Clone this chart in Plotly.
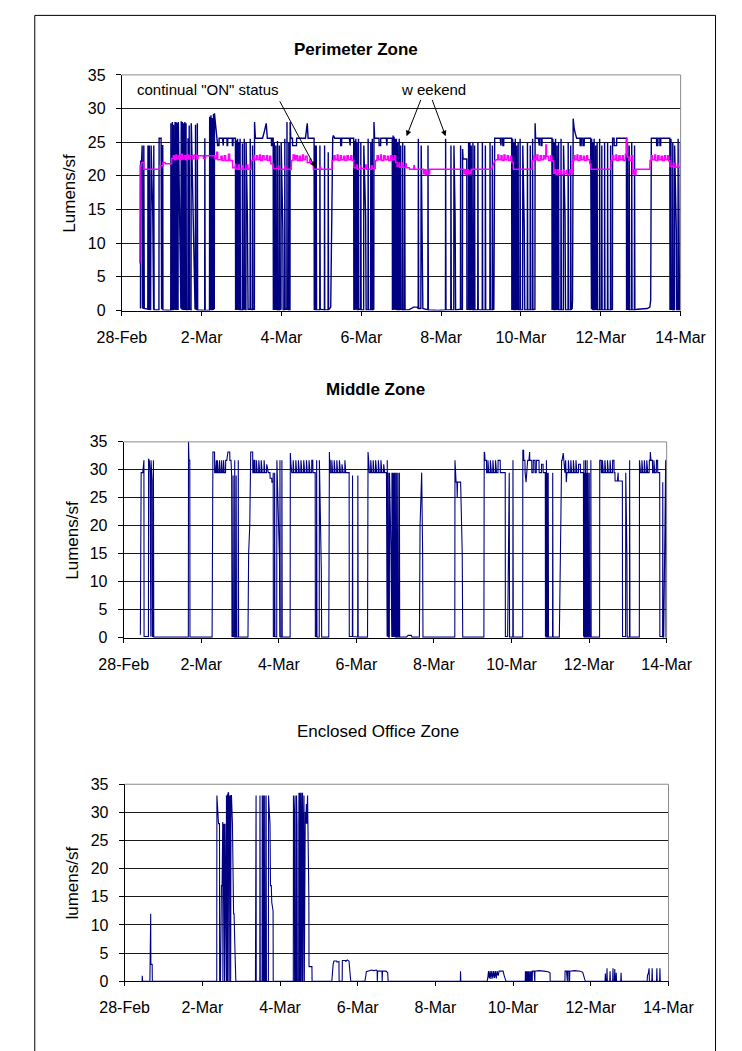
import plotly.graph_objects as go

# ---------------------------------------------------------------------------
# Axis labels
# ---------------------------------------------------------------------------
tick_hours = [0, 48, 96, 144, 192, 240, 288, 336]
tick_labels = ["28-Feb", "2-Mar", "4-Mar", "6-Mar", "8-Mar", "10-Mar", "12-Mar", "14-Mar"]
lumen_ticks = [0, 5, 10, 15, 20, 25, 30, 35]

# ---------------------------------------------------------------------------
# Logged lighting levels: (hours since 28-Feb 00:00, lumens per sq ft)
# ---------------------------------------------------------------------------
perimeter_zone = [
    (11.2, 0.3), (11.3, 22.3), (11.8, 21.8), (12.2, 24.5), (12.4, 0.4),
    (13.1, 0.3), (13.2, 24.5), (13.5, 0.3), (15.6, 0.2), (15.7, 24.5), (15.9, 0.2),
    (16.4, 0.2), (16.5, 24.5), (16.7, 0.2), (17.3, 0.1), (17.4, 24.5), (17.6, 24.5),
    (18.6, 14.0), (18.8, 0.2), (19.1, 0.1), (19.2, 24.5), (19.4, 0.1),
    (22.3, 0.1), (22.4, 25.6), (23.6, 25.6), (23.7, 0.2), (23.9, 0.2), (24.0, 24.5),
    (24.6, 24.5), (24.7, 0.1),
    (29.4, 0.0), (29.5, 27.8), (29.7, 0.2), (30.3, 0.1), (30.4, 28.0), (30.6, 0.1),
    (31.0, 0.1), (31.1, 27.6), (31.3, 0.3), (31.7, 0.2), (31.8, 28.0), (32.0, 28.0),
    (32.1, 0.2), (32.5, 0.1), (32.6, 28.0), (32.8, 0.1), (33.2, 0.2), (33.3, 27.8),
    (33.4, 0.2), (33.8, 0.2), (33.9, 28.0), (34.0, 27.5), (35.5, 0.3), (35.7, 28.1),
    (35.9, 0.3), (36.3, 0.2), (36.4, 28.0), (36.6, 0.2), (37.0, 0.1), (37.1, 27.8),
    (37.3, 0.1), (37.8, 0.2), (37.9, 28.0), (38.1, 0.2), (38.5, 0.2), (38.6, 27.8),
    (38.8, 0.1), (39.7, 0.1), (39.8, 25.6), (40.0, 0.2), (40.4, 0.2), (40.5, 27.5),
    (40.7, 0.2), (41.6, 0.1), (41.7, 27.8), (41.8, 27.5), (44.0, 0.3), (44.2, 0.2),
    (44.3, 27.6), (44.5, 0.2), (45.3, 0.1), (45.4, 27.8), (45.6, 0.1),
    (49.8, 0.0), (49.9, 25.6), (50.1, 0.0),
    (52.7, 0.0), (52.8, 28.8), (53.0, 0.2), (53.5, 0.2), (53.6, 29.0), (53.8, 0.1),
    (54.3, 0.1), (54.4, 28.6), (54.6, 0.2), (55.0, 0.2), (55.1, 29.2), (55.4, 0.3),
    (55.6, 0.3), (55.7, 29.3), (56.2, 28.0), (56.8, 26.5), (57.3, 25.0), (57.6, 24.5),
    (58.4, 24.5), (58.5, 25.6), (60.5, 25.6), (60.6, 24.5), (61.0, 24.5), (61.1, 25.6),
    (63.2, 25.6), (63.3, 24.5), (63.6, 24.5), (63.7, 25.6), (66.4, 25.6), (66.5, 24.5),
    (66.8, 24.5), (66.9, 25.6), (68.3, 25.6),
    (68.4, 0.2), (68.8, 0.2), (68.9, 25.3), (69.1, 0.2), (69.5, 0.1), (69.6, 25.5),
    (69.8, 0.1), (70.2, 0.2), (70.3, 25.0), (70.5, 0.2), (71.0, 0.1), (71.1, 25.5),
    (71.3, 0.1), (72.4, 0.1), (72.5, 24.8), (72.7, 0.1), (73.5, 0.2), (73.6, 25.5),
    (73.8, 0.2), (74.6, 0.1), (74.7, 25.0), (75.5, 14.0), (75.9, 0.2), (77.1, 0.2),
    (77.2, 25.5), (77.4, 0.2), (78.5, 0.1), (78.6, 24.5), (78.8, 0.2),
    (79.7, 0.2), (79.8, 28.0), (80.3, 25.6), (84.6, 25.6), (85.6, 26.5), (86.8, 27.8),
    (87.5, 25.6), (89.9, 25.6), (90.0, 24.5), (90.4, 24.5), (90.5, 25.6), (91.0, 25.6),
    (91.1, 0.2), (91.6, 0.2), (91.7, 25.0), (91.9, 0.2), (92.5, 0.2), (92.6, 24.5),
    (92.8, 0.2), (93.5, 0.1), (93.6, 25.2), (93.8, 0.1), (94.6, 0.1), (94.7, 24.5),
    (94.9, 0.1), (95.7, 0.2), (95.8, 25.0), (96.8, 12.0), (97.0, 0.1), (97.9, 0.1),
    (98.0, 25.5), (98.2, 0.2), (99.2, 0.2), (99.3, 28.0), (99.5, 0.2), (100.3, 0.1),
    (100.4, 25.0), (100.6, 0.1),
    (101.1, 0.1), (101.2, 28.0), (101.6, 25.6), (102.6, 25.6), (102.7, 24.5), (105.0, 24.5),
    (105.1, 25.6), (110.4, 25.6), (111.0, 26.5), (111.5, 27.8), (112.0, 25.6), (115.6, 25.6),
    (115.7, 0.2), (116.0, 0.2), (116.1, 24.5), (116.3, 0.2), (116.8, 0.1), (116.9, 24.5),
    (117.1, 0.1), (119.0, 0.1), (119.1, 24.5), (119.3, 0.2), (121.8, 0.1), (121.9, 24.5),
    (122.0, 0.1), (124.0, 0.1), (124.1, 23.5), (124.3, 0.1), (125.6, 0.5), (126.4, 25.0),
    (126.8, 25.6), (127.2, 26.0), (128.0, 25.6), (131.5, 25.6), (131.6, 24.5), (132.1, 24.5),
    (132.2, 25.6), (136.8, 25.6), (136.9, 24.5), (137.3, 24.5), (137.4, 25.6), (139.4, 25.6),
    (139.5, 0.2), (139.9, 0.2), (140.0, 25.2), (140.2, 0.2), (140.6, 0.1), (140.7, 25.5),
    (140.9, 0.1), (141.3, 0.1), (141.4, 25.0), (141.6, 0.1), (142.2, 0.1), (142.3, 25.5),
    (142.5, 0.2), (143.6, 0.2), (143.7, 25.0), (143.9, 0.1), (145.4, 0.1), (145.5, 24.5),
    (146.6, 14.0), (146.9, 0.1), (148.0, 0.1), (148.1, 25.5), (148.3, 0.1), (149.6, 0.1),
    (149.7, 25.0), (149.9, 0.1), (150.5, 0.1), (150.6, 25.5), (150.8, 0.1),
    (151.5, 0.2), (151.6, 28.0), (152.0, 25.6), (154.6, 25.6), (154.7, 24.5), (155.6, 24.5),
    (155.7, 25.6), (159.0, 25.6), (159.1, 24.5), (159.4, 24.5), (159.5, 25.6), (162.6, 25.6),
    (162.7, 0.2), (163.0, 0.2), (163.1, 26.0), (163.3, 0.2), (163.6, 0.1), (163.7, 25.8),
    (163.9, 0.1), (164.3, 0.1), (164.4, 25.5), (164.6, 0.1), (165.0, 0.2), (165.1, 25.5),
    (165.3, 0.2), (165.8, 0.1), (165.9, 25.0), (166.1, 0.1), (166.7, 0.1), (166.8, 25.5),
    (167.0, 0.1), (167.6, 0.2), (167.7, 24.5), (167.9, 0.2), (168.8, 0.1), (168.9, 25.0),
    (169.1, 0.1), (170.0, 0.1), (170.1, 24.5), (170.3, 0.1),
    (172.5, 0.1), (174.5, 0.3), (175.5, 0.5), (177.5, 0.5), (178.2, 0.3), (178.3, 25.5),
    (178.5, 0.3), (179.8, 0.3), (180.0, 24.5), (181.0, 0.3), (183.0, 0.2), (184.0, 0.1),
    (184.1, 24.5), (184.3, 0.1), (190.0, 0.0), (194.6, 0.1), (194.7, 25.5), (194.9, 0.1),
    (197.8, 0.1), (197.9, 24.5), (198.1, 0.1), (199.6, 0.1), (199.7, 24.5), (200.4, 14.0),
    (200.7, 0.1), (203.6, 0.2), (203.7, 24.5), (203.9, 0.2), (204.8, 0.2), (204.9, 24.0),
    (205.2, 22.5), (207.4, 22.5), (207.5, 0.2), (208.4, 0.2), (208.5, 25.0), (208.7, 0.2),
    (209.2, 0.1), (209.3, 25.0), (209.5, 0.1), (210.0, 0.2), (210.1, 24.5), (210.3, 0.2),
    (211.0, 0.1), (211.1, 25.0), (211.3, 0.1), (212.0, 0.1), (212.1, 24.5), (212.3, 0.1),
    (214.0, 0.1), (214.1, 25.0), (214.3, 0.1), (216.7, 0.1), (216.8, 25.0), (217.0, 0.1),
    (218.5, 0.1), (218.6, 24.5), (218.8, 0.1), (221.3, 0.1), (221.4, 25.0), (221.6, 0.1),
    (222.7, 0.1), (222.8, 24.5), (223.0, 0.1),
    (223.7, 0.2), (223.8, 24.5), (224.2, 25.6), (227.5, 25.6), (227.6, 24.5), (228.0, 24.5),
    (228.1, 25.6), (229.0, 25.6), (229.1, 24.5), (229.6, 24.5), (229.7, 25.6), (234.4, 25.6),
    (234.5, 0.2), (234.9, 0.2), (235.0, 25.5), (235.2, 0.2), (235.7, 0.1), (235.8, 25.0),
    (236.0, 0.1), (236.5, 0.1), (236.6, 25.5), (236.8, 0.1), (237.3, 0.2), (237.4, 24.5),
    (237.6, 0.2), (238.2, 0.1), (238.3, 25.0), (238.5, 0.1), (239.4, 0.1), (239.5, 25.5),
    (239.7, 0.1), (241.0, 0.1), (241.1, 24.5), (242.0, 12.0), (242.3, 0.1), (243.8, 0.1),
    (243.9, 25.0), (244.1, 0.1), (245.5, 0.1), (245.6, 24.5), (245.8, 0.1), (246.9, 0.1),
    (247.0, 25.5), (247.2, 0.1),
    (248.4, 0.2), (248.5, 27.8), (248.8, 25.6), (250.5, 25.6), (250.6, 24.5), (251.0, 24.5),
    (251.1, 25.6), (252.0, 25.6), (252.1, 24.5), (252.6, 24.5), (252.7, 25.6), (258.6, 25.6),
    (258.7, 0.2), (259.1, 0.2), (259.2, 25.5), (259.4, 0.2), (259.9, 0.1), (260.0, 25.0),
    (260.2, 0.1), (260.7, 0.1), (260.8, 25.5), (261.0, 0.1), (261.6, 0.2), (261.7, 24.5),
    (261.9, 0.2), (262.5, 0.1), (262.6, 25.0), (262.8, 0.1), (264.0, 0.1), (264.1, 25.5),
    (264.3, 0.1), (265.5, 0.1), (265.6, 24.5), (266.5, 14.0), (266.8, 0.1), (268.3, 0.1),
    (268.4, 25.0), (268.6, 0.1), (269.8, 0.1), (269.9, 24.5), (270.1, 0.1), (270.8, 0.3),
    (271.0, 1.5),
    (271.4, 28.5), (272.0, 27.0), (272.8, 26.2), (273.5, 25.6), (275.5, 25.6), (275.6, 24.5),
    (276.2, 24.5), (276.3, 25.6), (277.2, 25.6), (277.3, 24.5), (278.0, 24.5), (278.1, 25.6),
    (281.9, 25.6),
    (282.0, 0.2), (282.4, 0.2), (282.5, 25.5), (282.7, 0.2), (283.1, 0.1), (283.2, 25.0),
    (283.4, 0.1), (283.9, 0.1), (284.0, 25.5), (284.2, 0.1), (284.8, 0.2), (284.9, 24.5),
    (285.1, 0.2), (285.7, 0.1), (285.8, 25.0), (286.0, 0.1), (287.2, 0.1), (287.3, 25.5),
    (287.5, 0.1), (288.5, 0.1), (288.6, 24.5), (288.8, 0.1), (290.2, 0.1), (290.3, 25.0),
    (290.5, 0.1), (292.0, 0.1), (292.1, 25.0), (292.3, 0.1), (293.8, 0.1), (293.9, 24.5),
    (294.1, 0.1), (295.0, 0.2),
    (295.1, 25.6), (296.0, 25.6), (296.1, 24.5), (297.5, 24.5), (297.6, 25.6), (303.4, 25.6),
    (303.5, 0.2), (304.0, 0.2), (304.1, 25.0), (304.3, 0.2), (305.0, 0.1), (305.1, 24.5),
    (305.3, 0.1), (306.5, 0.1), (306.6, 25.0), (306.8, 0.1), (308.2, 0.1), (308.3, 24.5),
    (308.5, 0.1), (310.0, 0.2), (316.0, 0.3), (317.5, 0.5), (318.0, 1.5),
    (318.4, 25.6), (321.5, 25.6), (321.6, 24.5), (322.3, 24.5), (322.4, 25.6), (323.5, 25.6),
    (323.6, 24.5), (324.0, 24.5), (324.1, 25.6), (329.5, 25.6),
    (329.6, 0.2), (330.1, 0.2), (330.2, 25.5), (330.4, 0.2), (331.2, 0.1), (331.3, 25.0),
    (331.5, 0.1), (332.3, 0.1), (332.4, 24.5), (333.4, 12.0), (333.6, 0.1), (334.4, 0.1),
    (334.5, 25.5), (334.7, 0.1), (335.4, 0.1), (335.9, 25.0),
]

perimeter_status = [
    (10.8, 7.0), (11.0, 21.5), (11.7, 21.5), (11.8, 22.0), (13.2, 22.0), (13.3, 21.0),
    (22.7, 21.0), (22.8, 21.5), (24.6, 21.5), (24.7, 22.0), (26.0, 22.0), (26.1, 21.8),
    (29.9, 21.8),
    (30.0, 22.6), (30.9, 22.6), (31.0, 23.0), (31.5, 23.0), (31.6, 22.4), (32.4, 22.4),
    (32.5, 23.1), (33.0, 23.1), (33.1, 22.5), (34.0, 22.5), (34.1, 23.0), (34.9, 23.0),
    (35.0, 22.4), (35.6, 22.4), (35.7, 23.2), (36.3, 23.2), (36.4, 22.5), (37.3, 22.5),
    (37.4, 23.0), (38.2, 23.0), (38.3, 22.4), (39.1, 22.4), (39.2, 23.1), (40.1, 23.1),
    (40.2, 22.5), (41.0, 22.5), (41.1, 23.0), (42.6, 23.0), (42.7, 22.5), (43.3, 22.5),
    (43.4, 23.1), (45.0, 23.1), (45.1, 22.6), (45.8, 22.6), (45.9, 23.0), (49.0, 23.0),
    (49.1, 22.6), (50.3, 22.6), (50.4, 23.0), (55.9, 23.0), (56.0, 22.5), (56.9, 22.5),
    (57.0, 23.5), (57.6, 23.5), (57.7, 22.4), (59.5, 22.4), (59.6, 22.9), (60.3, 22.9),
    (60.4, 22.3), (61.5, 22.3), (61.6, 23.0), (62.4, 23.0), (62.5, 22.3), (64.0, 22.3),
    (64.1, 23.2), (64.8, 23.2), (64.9, 22.3), (66.5, 22.3),
    (66.7, 21.2), (68.0, 21.2), (68.1, 21.8), (68.5, 21.8), (68.6, 21.0), (70.0, 21.0),
    (70.1, 21.6), (70.6, 21.6), (70.7, 21.0), (72.5, 21.0), (72.6, 21.5), (73.0, 21.5),
    (73.1, 21.0), (75.2, 21.0), (75.3, 21.6), (75.8, 21.6), (75.9, 21.0), (77.8, 21.0),
    (77.9, 22.3), (79.0, 22.3), (79.1, 23.0), (79.8, 23.0), (79.9, 22.4), (81.0, 22.4),
    (81.1, 23.0), (81.7, 23.0), (81.8, 22.4), (82.8, 22.4), (82.9, 23.1), (83.4, 23.1),
    (83.5, 22.3), (84.5, 22.3), (84.6, 23.0), (85.5, 23.0), (85.6, 22.4), (86.8, 22.4),
    (86.9, 23.0), (87.6, 23.0), (87.7, 22.3), (88.8, 22.3), (88.9, 22.9), (89.5, 22.9),
    (89.6, 21.8), (90.9, 21.8),
    (91.0, 21.1), (94.0, 21.1), (94.1, 21.5), (94.4, 21.5), (94.5, 21.0), (98.0, 21.0),
    (98.1, 21.5), (98.5, 21.5), (98.6, 21.0), (101.9, 21.0),
    (102.0, 22.3), (102.9, 22.3), (103.0, 23.1), (103.8, 23.1), (103.9, 22.4), (104.6, 22.4),
    (104.7, 23.0), (105.5, 23.0), (105.6, 22.3), (106.6, 22.3), (106.7, 22.9), (107.4, 22.9),
    (107.5, 22.3), (108.5, 22.3), (108.6, 23.1), (109.2, 23.1), (109.3, 22.4), (110.3, 22.4),
    (110.4, 22.9), (111.4, 22.9), (111.5, 22.0), (113.0, 22.0), (113.1, 22.5), (113.6, 22.5),
    (113.7, 21.8), (115.1, 21.8),
    (115.2, 21.0), (119.0, 21.0), (119.1, 21.3), (119.6, 21.3), (119.7, 21.0), (126.3, 21.0),
    (126.4, 22.3), (127.4, 22.3), (127.5, 23.0), (128.2, 23.0), (128.3, 22.4), (129.4, 22.4),
    (129.5, 23.1), (130.0, 23.1), (130.1, 22.3), (131.2, 22.3), (131.3, 23.0), (132.0, 23.0),
    (132.1, 22.4), (133.3, 22.4), (133.4, 22.9), (134.1, 22.9), (134.2, 22.3), (135.3, 22.3),
    (135.4, 23.0), (136.2, 23.0), (136.3, 22.4), (137.6, 22.4), (137.7, 23.0), (138.3, 23.0),
    (138.4, 22.3), (139.4, 22.3),
    (139.5, 21.2), (141.0, 21.2), (141.1, 21.6), (141.5, 21.6), (141.6, 21.0), (143.5, 21.0),
    (143.6, 21.5), (144.0, 21.5), (144.1, 21.1), (146.6, 21.1), (146.7, 21.6), (147.1, 21.6),
    (147.2, 21.0), (150.0, 21.0), (150.1, 21.5), (150.5, 21.5), (150.6, 21.1), (152.4, 21.1),
    (152.5, 22.3), (153.4, 22.3), (153.5, 23.0), (154.2, 23.0), (154.3, 22.4), (155.5, 22.4),
    (155.6, 23.1), (156.1, 23.1), (156.2, 22.3), (157.4, 22.3), (157.5, 23.0), (158.3, 23.0),
    (158.4, 22.4), (159.6, 22.4), (159.7, 22.9), (160.4, 22.9), (160.5, 22.3), (161.6, 22.3),
    (161.7, 23.0), (162.5, 23.0), (162.6, 22.4), (163.8, 22.4), (163.9, 23.0), (164.6, 23.0),
    (164.7, 22.0), (165.5, 22.0),
    (165.6, 21.4), (166.6, 21.4), (166.7, 21.9), (167.1, 21.9), (167.2, 21.3), (168.6, 21.3),
    (168.7, 21.9), (169.0, 21.9), (169.1, 21.3), (170.6, 21.3), (170.7, 21.8), (171.0, 21.8),
    (171.1, 21.2), (172.9, 21.2), (173.0, 21.0), (175.5, 21.0), (175.6, 21.5), (175.9, 21.5),
    (176.0, 21.0), (181.3, 21.0),
    (181.4, 20.3), (182.0, 20.3), (182.1, 20.9), (182.5, 20.9), (182.6, 20.2), (183.4, 20.2),
    (183.5, 20.9), (183.9, 20.9), (184.0, 20.3), (185.1, 20.3),
    (185.2, 21.0), (205.6, 21.0),
    (205.7, 20.3), (206.3, 20.3), (206.4, 20.9), (206.8, 20.9), (206.9, 20.2), (207.7, 20.2),
    (207.8, 20.9), (208.3, 20.9), (208.4, 20.3), (209.3, 20.3), (209.4, 20.8), (209.8, 20.8),
    (209.9, 20.3), (210.2, 20.3),
    (210.3, 21.0), (222.4, 21.0), (223.5, 21.8), (224.5, 22.3),
    (225.3, 22.4), (226.0, 22.4), (226.1, 23.1), (226.7, 23.1), (226.8, 22.4), (227.9, 22.4),
    (228.0, 23.0), (228.6, 23.0), (228.7, 22.3), (229.7, 22.3), (229.8, 23.1), (230.4, 23.1),
    (230.5, 22.4), (231.6, 22.4), (231.7, 23.0), (232.5, 23.0), (232.6, 22.3), (233.7, 22.3),
    (233.8, 22.9), (234.4, 22.9), (234.5, 22.0), (235.4, 22.0),
    (235.5, 21.0), (246.6, 21.0),
    (246.7, 22.3), (247.6, 22.3), (247.7, 23.0), (248.3, 23.0), (248.4, 22.4), (249.5, 22.4),
    (249.6, 23.1), (250.2, 23.1), (250.3, 22.3), (251.4, 22.3), (251.5, 23.0), (252.2, 23.0),
    (252.3, 22.4), (253.4, 22.4), (253.5, 23.0), (254.3, 23.0), (254.4, 22.5), (254.9, 22.5),
    (255.0, 24.6), (255.3, 24.6), (255.4, 22.9), (256.5, 22.9), (256.6, 22.3), (257.7, 22.3),
    (257.8, 23.0), (258.5, 23.0), (258.6, 22.2), (259.7, 22.2),
    (259.8, 20.4), (260.5, 20.4), (260.6, 20.9), (261.0, 20.9), (261.1, 20.2), (262.0, 20.2),
    (262.1, 20.9), (262.6, 20.9), (262.7, 20.3), (263.8, 20.3), (263.9, 20.8), (264.3, 20.8),
    (264.4, 20.2), (265.5, 20.2), (265.6, 20.9), (266.0, 20.9), (266.1, 20.3), (267.3, 20.3),
    (267.4, 20.8), (267.9, 20.8), (268.0, 20.2), (269.3, 20.2), (269.4, 20.9), (269.8, 20.9),
    (269.9, 20.4), (270.8, 20.4),
    (270.9, 22.3), (271.8, 22.3), (271.9, 23.0), (272.5, 23.0), (272.6, 22.4), (273.6, 22.4),
    (273.7, 23.1), (274.2, 23.1), (274.3, 22.3), (275.4, 22.3), (275.5, 23.0), (276.2, 23.0),
    (276.3, 22.4), (277.4, 22.4), (277.5, 22.9), (278.2, 22.9), (278.3, 22.3), (279.4, 22.3),
    (279.5, 23.0), (280.1, 23.0), (280.2, 22.4), (281.3, 22.4), (281.4, 21.8), (282.0, 21.8),
    (282.1, 21.0), (294.1, 21.0),
    (294.2, 22.3), (295.1, 22.3), (295.2, 23.0), (295.8, 23.0), (295.9, 22.4), (297.0, 22.4),
    (297.1, 23.1), (297.6, 23.1), (297.7, 22.3), (298.8, 22.3), (298.9, 23.0), (299.6, 23.0),
    (299.7, 22.4), (300.8, 22.4), (300.9, 23.0), (301.5, 23.0), (301.6, 22.3), (302.7, 22.3),
    (302.8, 23.2), (303.4, 23.2), (303.5, 25.6), (303.8, 25.6), (303.9, 22.8), (305.0, 22.8),
    (305.1, 22.3), (306.2, 22.3), (306.3, 23.0), (307.2, 23.0),
    (307.3, 20.3), (307.8, 20.3), (307.9, 20.9), (308.4, 20.9), (308.5, 20.2), (309.1, 20.2),
    (309.2, 21.0), (317.5, 21.0),
    (317.6, 22.3), (318.5, 22.3), (318.6, 23.0), (319.2, 23.0), (319.3, 22.4), (320.4, 22.4),
    (320.5, 23.1), (321.0, 23.1), (321.1, 22.3), (322.2, 22.3), (322.3, 23.0), (323.0, 23.0),
    (323.1, 22.4), (324.2, 22.4), (324.3, 22.9), (325.0, 22.9), (325.1, 22.3), (326.2, 22.3),
    (326.3, 23.0), (326.9, 23.0), (327.0, 22.4), (328.1, 22.4), (328.2, 23.0), (328.8, 23.0),
    (328.9, 22.2), (329.6, 22.2),
    (329.7, 21.4), (331.5, 21.4), (331.6, 21.9), (332.0, 21.9), (332.1, 21.3), (334.0, 21.3),
    (334.1, 21.8), (334.4, 21.8), (334.5, 21.3), (336.0, 21.3),
]

middle_zone = [
    (10.3, 0.5), (10.4, 24.0), (10.8, 29.5), (11.8, 29.5), (12.2, 31.7), (12.5, 31.7),
    (12.6, 0.2), (15.3, 0.2), (15.4, 32.0), (15.9, 31.5), (16.3, 29.5), (16.4, 0.2),
    (16.8, 0.2), (16.9, 31.7), (17.3, 29.0), (17.6, 28.0), (17.7, 0.2), (18.3, 0.2),
    (18.4, 31.7), (18.6, 0.1),
    (40.0, 0.1), (40.1, 35.0), (40.4, 31.7), (40.9, 31.7), (41.0, 0.1),
    (54.7, 0.1), (55.0, 20.0), (55.2, 33.2), (56.2, 33.2), (56.3, 29.5), (56.8, 29.5),
    (56.9, 31.7), (57.3, 31.7), (57.4, 29.5), (57.9, 29.5), (58.0, 31.7), (58.5, 29.5),
    (59.2, 29.5), (59.3, 31.7), (59.8, 29.5), (60.5, 29.5), (60.6, 31.7), (61.0, 29.5),
    (61.7, 29.5), (61.8, 31.7), (62.2, 29.5), (63.0, 29.5), (63.1, 31.7), (63.8, 31.7),
    (64.5, 33.2), (65.6, 33.2), (65.7, 31.7), (66.4, 31.7),
    (66.8, 29.0), (67.0, 0.2), (67.6, 0.2), (67.7, 29.0), (67.9, 0.2), (68.6, 0.1),
    (68.7, 31.7), (68.9, 0.1), (69.5, 0.1), (69.6, 29.0), (69.8, 0.1), (70.8, 0.1),
    (70.9, 31.7), (71.1, 0.1), (76.9, 0.1), (77.3, 15.0), (78.0, 20.0), (78.6, 33.2),
    (79.8, 33.2), (79.9, 29.5), (80.5, 29.5), (80.6, 31.7), (81.1, 31.7), (81.2, 29.5),
    (82.0, 29.5), (82.1, 31.7), (82.6, 29.5), (83.5, 29.5), (83.6, 31.7), (84.2, 29.5),
    (85.0, 29.5), (85.1, 31.7), (85.7, 29.5), (86.8, 29.5), (86.9, 31.7), (87.3, 29.5),
    (88.4, 29.5), (88.5, 31.0), (89.5, 29.5), (90.5, 29.5), (90.6, 28.5), (91.6, 28.5),
    (91.7, 27.8), (92.4, 27.8),
    (92.5, 29.5), (92.6, 0.2), (93.3, 0.2), (93.4, 29.5), (93.6, 0.2), (94.7, 0.1),
    (94.8, 31.7), (96.4, 14.0), (96.6, 0.1), (96.7, 31.7), (96.9, 0.1), (97.8, 0.1),
    (97.9, 31.7), (98.1, 0.1),
    (103.0, 0.1), (103.1, 33.0), (103.5, 31.0), (104.0, 29.5), (104.8, 29.5), (104.9, 31.7),
    (105.3, 29.5), (106.4, 29.5), (106.5, 31.7), (107.0, 29.5), (108.0, 29.5), (108.1, 31.7),
    (108.7, 29.5), (109.6, 29.5), (109.7, 31.7), (110.3, 29.5), (111.3, 29.5), (111.4, 31.7),
    (112.0, 29.5), (113.0, 29.5), (113.1, 31.7), (113.6, 29.5), (114.6, 29.5), (114.7, 31.7),
    (115.3, 29.5), (116.3, 29.5), (116.4, 31.7), (117.0, 31.7), (117.1, 29.5), (118.5, 29.5),
    (118.6, 0.2), (119.3, 0.2), (119.4, 31.7), (119.6, 0.1), (121.0, 0.1), (121.1, 31.7),
    (122.3, 12.0), (122.5, 0.1),
    (126.9, 0.1), (127.0, 33.2), (127.3, 33.2), (127.4, 31.7), (127.8, 31.7), (127.9, 29.5),
    (128.7, 29.5), (128.8, 31.7), (129.3, 29.5), (130.2, 29.5), (130.3, 31.7), (130.8, 29.5),
    (131.8, 29.5), (131.9, 31.7), (132.4, 29.5), (133.4, 29.5), (133.5, 31.7), (134.1, 29.5),
    (135.0, 29.5), (135.1, 31.0), (135.8, 29.5), (136.8, 29.5), (136.9, 31.7), (137.4, 29.5),
    (139.5, 29.5),
    (139.6, 0.2), (141.5, 0.2), (141.6, 29.0), (141.8, 0.2), (144.8, 0.1), (144.9, 29.0),
    (145.1, 0.1),
    (150.9, 0.1), (151.0, 20.0), (151.2, 33.2), (151.6, 31.7), (152.0, 29.5), (152.8, 29.5),
    (152.9, 31.7), (153.4, 29.5), (154.3, 29.5), (154.4, 31.7), (154.9, 29.5), (155.8, 29.5),
    (155.9, 31.7), (156.5, 29.5), (157.5, 29.5), (157.6, 31.7), (158.1, 29.5), (159.1, 29.5),
    (159.2, 31.7), (159.8, 29.5), (160.8, 29.5), (160.9, 31.0), (161.5, 29.5), (162.6, 29.5),
    (162.7, 0.2), (163.0, 0.2), (163.1, 31.7), (163.3, 0.1), (163.6, 0.1), (163.7, 29.5),
    (163.9, 0.1), (164.4, 0.1), (164.5, 29.5), (165.4, 15.0), (165.6, 0.1), (165.9, 0.1),
    (166.0, 29.5), (166.2, 0.1), (166.6, 0.1), (166.7, 29.5), (166.9, 0.1), (167.3, 0.1),
    (167.4, 29.5), (167.6, 0.1), (168.0, 0.1), (168.1, 29.5), (168.3, 0.1), (168.8, 0.1),
    (168.9, 29.5), (169.1, 0.1), (169.6, 0.1), (169.7, 29.5), (169.9, 0.1), (170.5, 0.1),
    (170.6, 29.5), (170.8, 0.1),
    (171.4, 0.1), (175.0, 0.1), (176.0, 0.4), (178.0, 0.4), (178.5, 0.1), (183.0, 0.1),
    (183.4, 20.0), (184.4, 29.5), (185.0, 15.0), (185.2, 0.1),
    (204.9, 0.1), (205.0, 31.7), (205.4, 29.5), (205.7, 27.8), (206.2, 27.8), (206.4, 25.0),
    (206.6, 27.8), (208.5, 27.8), (209.5, 15.0), (209.8, 0.1),
    (222.9, 0.1), (223.1, 33.2), (223.4, 33.0), (223.6, 31.7), (224.5, 31.7), (224.6, 29.5),
    (225.3, 29.5), (225.4, 31.7), (225.9, 29.5), (226.8, 29.5), (226.9, 31.7), (227.5, 29.5),
    (228.4, 29.5), (228.5, 31.7), (229.0, 29.5), (230.0, 29.5), (230.1, 31.7), (230.7, 29.5),
    (231.6, 29.5), (231.7, 31.7), (233.0, 31.7), (233.1, 29.5), (236.1, 29.5),
    (236.2, 0.2), (237.6, 0.2), (238.6, 29.5), (238.8, 0.1), (240.8, 0.1), (240.9, 31.7),
    (241.1, 0.1),
    (246.9, 0.1), (247.0, 33.5), (247.5, 33.5), (247.6, 31.7), (248.3, 31.7), (248.4, 29.5),
    (249.0, 27.8), (249.4, 29.5), (250.0, 31.7), (250.8, 31.7), (250.9, 33.2), (251.2, 33.2),
    (251.3, 31.7), (252.5, 31.7), (252.6, 29.5), (253.4, 29.5), (253.5, 31.7), (254.5, 31.7),
    (254.6, 29.5), (255.3, 29.5), (255.4, 31.7), (257.0, 31.7), (257.1, 29.5), (258.5, 29.5),
    (258.6, 31.0), (259.5, 31.0), (259.6, 29.5), (260.9, 29.5),
    (261.0, 0.2), (261.1, 29.5), (261.3, 0.1), (261.5, 0.1), (261.6, 31.7), (261.8, 0.1),
    (262.0, 0.1), (262.1, 29.5), (262.3, 0.1), (262.6, 0.1), (262.7, 29.5), (262.9, 0.1),
    (265.4, 0.1), (265.5, 29.5), (265.7, 0.1), (269.6, 0.1), (270.3, 20.0), (271.0, 31.7),
    (271.3, 31.7),
    (272.0, 33.0), (272.4, 31.7), (273.0, 29.5), (273.5, 31.7), (273.9, 27.8), (274.3, 29.5),
    (275.1, 29.5), (275.2, 31.7), (275.7, 29.5), (276.6, 29.5), (276.7, 31.7), (277.2, 29.5),
    (278.2, 29.5), (278.3, 31.7), (278.8, 29.5), (279.8, 29.5), (279.9, 31.7), (280.4, 29.5),
    (281.4, 29.5), (281.5, 31.0), (282.6, 31.0), (282.7, 29.5), (284.5, 29.5),
    (284.6, 0.2), (284.8, 31.7), (285.0, 0.1), (285.2, 0.1), (285.3, 29.5), (285.5, 0.1),
    (285.7, 0.1), (285.8, 31.7), (286.0, 0.1), (286.2, 0.1), (286.3, 29.5), (286.5, 0.1),
    (286.7, 0.1), (286.8, 31.7), (287.0, 0.1), (287.2, 0.1), (287.3, 29.5), (287.5, 0.1),
    (288.0, 0.1), (288.1, 29.5), (288.3, 0.1), (289.0, 0.1), (289.1, 31.7), (289.3, 0.1),
    (294.5, 0.1), (294.6, 31.7), (295.5, 31.7), (295.6, 29.5), (296.2, 29.5), (296.3, 31.7),
    (296.8, 29.5), (297.7, 29.5), (297.8, 31.7), (298.3, 29.5), (299.3, 29.5), (299.4, 31.7),
    (299.9, 29.5), (300.9, 29.5), (301.0, 31.7), (301.5, 29.5), (302.5, 29.5), (302.6, 31.7),
    (303.4, 31.7), (303.5, 29.5), (304.0, 29.5), (304.1, 28.0), (305.5, 28.0), (305.6, 29.5),
    (306.0, 29.5), (306.1, 28.0), (308.6, 28.0),
    (308.7, 0.2), (310.6, 0.2), (310.7, 29.5), (311.4, 15.0), (311.6, 0.1), (313.0, 0.1),
    (313.1, 31.7), (313.3, 0.1),
    (319.1, 0.1), (319.2, 31.7), (319.8, 29.5), (320.6, 29.5), (320.7, 31.7), (321.2, 29.5),
    (322.1, 29.5), (322.2, 31.7), (322.7, 29.5), (323.6, 29.5), (323.7, 31.7), (324.3, 29.5),
    (325.2, 29.5), (325.3, 31.7), (325.8, 31.7), (325.9, 33.2), (326.3, 31.7), (327.2, 31.7),
    (327.3, 29.5), (328.0, 29.5), (328.1, 31.7), (328.7, 29.5), (329.6, 29.5), (329.7, 31.7),
    (330.4, 31.7), (330.5, 29.5), (331.7, 29.5),
    (331.8, 0.2), (333.5, 0.2), (333.6, 27.8), (333.8, 0.1), (334.2, 0.1), (334.9, 20.0),
    (335.4, 31.7), (335.6, 0.1), (335.8, 0.1), (335.9, 32.0),
]

enclosed_office_zone = [
    (10.5, 0.0), (10.8, 0.0), (10.9, 1.0), (11.1, 0.0), (15.6, 0.0), (15.7, 12.0),
    (16.1, 12.0), (16.2, 3.0), (17.0, 3.0), (17.1, 0.0),
    (56.9, 0.0), (57.0, 33.0), (57.5, 30.0), (58.0, 28.0), (58.6, 28.0), (58.7, 0.0),
    (59.2, 0.0), (59.5, 14.0), (59.8, 17.0), (60.2, 17.0), (60.3, 28.3), (60.6, 28.3),
    (60.7, 0.0), (60.9, 17.0), (61.1, 28.0), (61.3, 17.0), (61.5, 28.0), (61.7, 0.0),
    (62.0, 28.0), (62.2, 17.0), (62.4, 0.0), (62.8, 0.0), (62.9, 33.0), (63.1, 0.0),
    (63.3, 28.0), (63.5, 33.2), (63.7, 0.0), (63.9, 33.5), (64.2, 33.5), (64.4, 28.0),
    (64.6, 0.0), (64.8, 33.0), (65.1, 28.0), (65.3, 33.0), (65.5, 0.0), (65.7, 33.0),
    (66.0, 33.0), (66.2, 28.0), (66.4, 30.0), (66.6, 28.0), (67.3, 12.0), (67.6, 12.0),
    (68.2, 5.0), (68.7, 0.0),
    (80.8, 0.0), (80.9, 33.0), (81.2, 33.0), (81.3, 0.0), (83.5, 0.0), (83.6, 33.0),
    (83.8, 0.0), (84.9, 0.0), (85.0, 33.0), (85.2, 0.0), (85.6, 0.0), (85.7, 33.0),
    (85.9, 0.0), (86.4, 0.0), (86.5, 33.0), (86.7, 0.0), (87.3, 0.0), (87.4, 33.0),
    (87.6, 0.0), (88.8, 0.0), (88.9, 33.0), (89.4, 30.0), (89.8, 28.0), (90.1, 17.0),
    (90.6, 17.0), (90.9, 14.0), (91.7, 12.5), (91.8, 0.0),
    (104.2, 0.0), (104.3, 33.0), (104.8, 29.0), (105.0, 0.0), (105.2, 0.0), (105.3, 33.0),
    (105.5, 0.0), (106.1, 0.0), (106.2, 33.0), (106.5, 28.0), (106.7, 0.0), (107.5, 0.0),
    (107.6, 28.0), (107.7, 33.5), (107.9, 0.0), (108.0, 33.5), (108.2, 0.0), (108.6, 0.0),
    (108.7, 33.5), (108.9, 0.0), (109.3, 28.0), (109.5, 33.5), (109.7, 0.0), (109.9, 33.5),
    (110.1, 0.0), (110.5, 28.0), (110.8, 33.0), (111.0, 0.0), (111.3, 28.0), (111.6, 30.0),
    (111.9, 28.0), (112.3, 31.5), (112.6, 28.0), (112.8, 33.0), (113.0, 33.0), (113.8, 15.0),
    (113.9, 2.6), (115.7, 2.6), (115.8, 0.0),
    (128.0, 0.0), (128.3, 1.6), (128.8, 3.0), (129.3, 3.6), (131.0, 3.6), (131.2, 3.4),
    (132.4, 3.5), (132.5, 0.0), (134.4, 0.0), (134.5, 3.7), (136.5, 3.7), (136.6, 3.5),
    (137.5, 3.8), (138.6, 3.6), (139.7, 0.0),
    (148.4, 0.0), (148.6, 1.0), (149.0, 1.0), (149.3, 1.7), (151.0, 1.8), (152.5, 2.0),
    (154.0, 1.9), (155.5, 2.0), (156.0, 1.8), (156.1, 0.0), (156.3, 1.8), (159.0, 1.8),
    (159.1, 0.0), (159.3, 1.8), (161.5, 1.8), (162.5, 1.5), (162.8, 0.0),
    (207.4, 0.0), (207.5, 1.8), (207.7, 0.0),
    (223.9, 0.0), (224.3, 0.5), (224.8, 1.8), (225.3, 0.5), (225.8, 1.8), (226.3, 0.4),
    (226.8, 1.8), (227.4, 0.5), (227.9, 1.8), (228.5, 0.6), (229.0, 1.8), (229.6, 0.5),
    (230.1, 1.8), (230.8, 1.0), (231.3, 1.8), (233.8, 1.8), (234.5, 1.0), (235.6, 0.0),
    (247.5, 0.0), (247.6, 1.8), (247.8, 0.0), (248.2, 0.0), (248.3, 1.8), (248.5, 0.0),
    (248.9, 0.0), (249.0, 1.8), (249.2, 0.0), (249.6, 0.0), (249.7, 1.8), (249.9, 0.0),
    (250.4, 0.0), (250.5, 1.8), (250.7, 0.0), (251.1, 0.0), (251.2, 1.8), (251.4, 0.0),
    (251.8, 0.0), (251.9, 1.8), (253.0, 1.8), (253.1, 0.0), (253.4, 0.0), (253.5, 1.8),
    (256.0, 1.9), (259.0, 1.8), (261.5, 1.7), (262.8, 1.5), (262.9, 0.0),
    (272.0, 0.0), (272.1, 1.8), (273.0, 1.8), (273.1, 0.0), (273.5, 0.0), (273.6, 1.8),
    (274.4, 1.8), (274.5, 0.0), (274.9, 0.0), (275.0, 1.8), (278.0, 1.9), (281.5, 1.8),
    (283.0, 1.6), (284.6, 0.0),
    (296.8, 0.0), (297.0, 1.4), (297.2, 0.0), (297.8, 0.0), (298.0, 2.3), (298.2, 0.0),
    (299.7, 0.0), (299.9, 1.8), (300.1, 0.0), (301.5, 0.0), (301.7, 2.3), (301.9, 0.0),
    (302.6, 0.0), (302.8, 2.2), (303.0, 0.0), (303.5, 0.0), (303.7, 1.5), (303.9, 0.0),
    (306.5, 0.0), (306.7, 1.5), (306.9, 0.0),
    (322.8, 0.0), (323.0, 1.0), (323.6, 1.5), (324.0, 2.3), (324.2, 0.0), (325.7, 0.0),
    (325.9, 2.3), (326.1, 0.0), (328.6, 0.0), (328.8, 2.3), (329.0, 0.0), (330.5, 0.0),
    (330.7, 2.3), (330.9, 0.0), (331.6, 0.0),
]

# ---------------------------------------------------------------------------
# Styling
# ---------------------------------------------------------------------------
W, H = 742, 1051
FONT = "Liberation Sans, Arial, Helvetica, sans-serif"
NAVY = "#000080"
MAGENTA = "#FF00FF"


def px_x(x):
    return x / W


def px_y(y):
    return 1 - y / H


def split(points):
    return [p[0] for p in points], [p[1] for p in points]


# plot-area boxes in page pixels: left, right, top, bottom
panels = [
    (104, 704, 68, 307.5),
    (106, 689, 441, 640),
    (107, 691, 789, 989.3),
]

fig = go.Figure()

series = [
    (perimeter_zone, NAVY, 1.4, 1),
    (perimeter_status, MAGENTA, 1.5, 1),
    (middle_zone, NAVY, 1.1, 2),
    (enclosed_office_zone, NAVY, 1.1, 3),
]
for pts, color, width, k in series:
    xs, ys = split(pts)
    sfx = "" if k == 1 else str(k)
    fig.add_trace(go.Scatter(
        x=xs, y=ys, mode="lines",
        line=dict(color=color, width=width),
        xaxis="x" + sfx, yaxis="y" + sfx,
        hoverinfo="skip", showlegend=False,
    ))

layout = dict(
    width=W, height=H,
    margin=dict(l=0, r=0, t=0, b=0),
    paper_bgcolor="white", plot_bgcolor="white",
    font=dict(family=FONT, size=16, color="black"),
    showlegend=False,
)

shapes = []
for i, (l, r, t, b) in enumerate(panels, start=1):
    sfx = "" if i == 1 else str(i)
    layout["xaxis" + sfx] = dict(
        domain=[px_x(l), px_x(r)], anchor="y" + sfx,
        range=[0, 336], tickvals=tick_hours, ticktext=tick_labels,
        ticks="outside", ticklen=4, tickcolor="black", tickwidth=1,
        showline=True, linecolor="black", linewidth=1,
        showgrid=False, zeroline=False,
        tickfont=dict(family=FONT, size=16, color="black"),
        ticklabelstandoff=8, fixedrange=True,
    )
    layout["yaxis" + sfx] = dict(
        domain=[px_y(b), px_y(t)], anchor="x" + sfx,
        range=[0, 35], tickvals=lumen_ticks,
        ticks="outside", ticklen=5, tickcolor="black", tickwidth=1,
        showline=True, linecolor="black", linewidth=1,
        showgrid=True, gridcolor="#1a1a1a", gridwidth=1, zeroline=False,
        tickfont=dict(family=FONT, size=16, color="black"),
        ticklabelstandoff=7, fixedrange=True,
    )
    # grey plot-area border along the top and right edges
    xd, yd = "x" + sfx + " domain", "y" + sfx + " domain"
    shapes.append(dict(type="line", xref=xd, yref=yd, x0=0, x1=1, y0=1, y1=1,
                       line=dict(color="#8c8c8c", width=1), layer="above"))
    shapes.append(dict(type="line", xref=xd, yref=yd, x0=1, x1=1, y0=0, y1=1,
                       line=dict(color="#8c8c8c", width=1), layer="above"))

# outer chart frame
shapes.append(dict(type="rect", xref="paper", yref="paper",
                   x0=px_x(10.5), x1=px_x(741.5), y0=-0.02, y1=px_y(7.5),
                   line=dict(color="black", width=1), fillcolor="rgba(0,0,0,0)"))
layout["shapes"] = shapes

annotations = [
    dict(text="<b>Perimeter Zone</b>", x=px_x(355), y=px_y(42), font=dict(size=17)),
    dict(text="<b>Middle Zone</b>", x=px_x(376), y=px_y(388), font=dict(size=17)),
    dict(text="Enclosed Office Zone", x=px_x(379), y=px_y(735), font=dict(size=17)),
    dict(text="Lumens/sf", x=px_x(48), y=px_y(188), textangle=-90, font=dict(size=17)),
    dict(text="Lumens/sf", x=px_x(51.5), y=px_y(540.5), textangle=-90, font=dict(size=17)),
    dict(text="lumens/sf", x=px_x(51.5), y=px_y(889), textangle=-90, font=dict(size=17)),
]
for a in annotations:
    a.update(xref="paper", yref="paper", showarrow=False,
             xanchor="center", yanchor="middle")
    a["font"].update(family=FONT, color="black")

# callout labels inside the perimeter plot
annotations += [
    dict(text='continual "ON" status', x=7.8, y=32.9, xref="x", yref="y",
         xanchor="left", yanchor="middle", showarrow=False,
         font=dict(family=FONT, size=15, color="black")),
    dict(text="w eekend", x=166.7, y=32.9, xref="x", yref="y",
         xanchor="left", yanchor="middle", showarrow=False,
         font=dict(family=FONT, size=15, color="black")),
]
# arrows: (tail hour, tail value) -> (head hour, head value)
callout_arrows = [
    ((94.5, 31.3), (116.2, 21.3)),
    ((180.1, 31.5), (171.2, 25.9)),
    ((186.3, 31.5), (194.7, 25.9)),
]
for (tx, ty), (hx, hy) in callout_arrows:
    annotations.append(dict(
        text="", x=hx, y=hy, ax=tx, ay=ty, xref="x", yref="y", axref="x", ayref="y",
        showarrow=True, arrowhead=2, arrowsize=1.1, arrowwidth=1,
        arrowcolor="black", standoff=0, startstandoff=0,
    ))
layout["annotations"] = annotations

fig.update_layout(**layout)

# place the figure flush with the page edges so it fills the window exactly
fig.write_html(
    "out.html",
    post_script="document.body.style.margin='0';document.body.style.overflow='hidden';",
)
